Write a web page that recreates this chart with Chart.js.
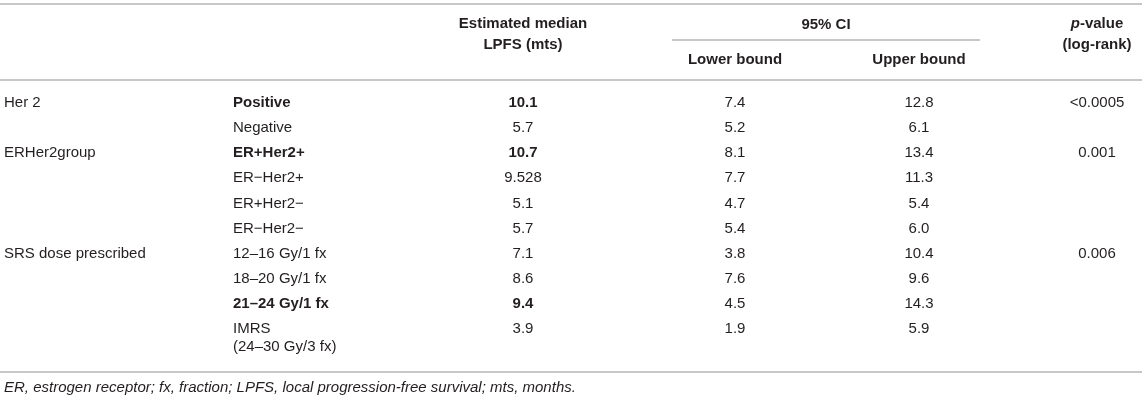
<!DOCTYPE html>
<html>
<head>
<meta charset="utf-8">
<script src="https://cdn.jsdelivr.net/npm/chart.js@4.4.1/dist/chart.umd.min.js"></script>
<style>
    html, body { margin: 0; padding: 0; background: #fff; }
    #wrap { width: 1145px; height: 400px; position: relative; }
</style>
</head>
<body>
<div id="wrap"><canvas id="tableChart"></canvas></div>
<script>
// Table data (one entry per body row)
const groups = ['Her 2', '', 'ERHer2group', '', '', '', 'SRS dose prescribed', '', '', ''];
const levels = ['Positive', 'Negative', 'ER+Her2+', 'ER\u2212Her2+', 'ER+Her2\u2212', 'ER\u2212Her2\u2212',
    '12\u201316 Gy/1 fx', '18\u201320 Gy/1 fx', '21\u201324 Gy/1 fx', ['IMRS', '(24\u201330 Gy/3 fx)']];
const medianLPFS = [10.1, 5.7, 10.7, 9.528, 5.1, 5.7, 7.1, 8.6, 9.4, 3.9];
const lowerBound = [7.4, 5.2, 8.1, 7.7, 4.7, 5.4, 3.8, 7.6, 4.5, 1.9];
const upperBound = [12.8, 6.1, 13.4, 11.3, 5.4, 6.0, 10.4, 9.6, 14.3, 5.9];
const pValues = ['<0.0005', '', '0.001', '', '', '', '0.006', '', '', ''];
const boldRows = [0, 2, 8];

// Header and footnote text
const headMedian = ['Estimated median', 'LPFS (mts)'];
const headCI = '95% CI';
const headBounds = ['Lower bound', 'Upper bound'];
const headP = ['p', '-value', '(log-rank)'];
const footnote = 'ER, estrogen receptor; fx, fraction; LPFS, local progression-free survival; mts, months.';

// Layout
const colX = [4, 233, 523, 735, 919, 1097];
const colAlign = ['left', 'left', 'center', 'center', 'center', 'center'];
const firstRowPx = 103;
const rowStepPx = 25.1;
const FONT = '"Liberation Sans", Arial, Helvetica, sans-serif';
const TEXT = '#231f20';
const RULE = '#b5b5b5';

function rowOf(px) {
    return (px - firstRowPx) / rowStepPx;
}

function fmt(v) {
    if (typeof v === 'number') return Number.isInteger(v) ? v.toFixed(1) : String(v);
    return v;
}

const columns = [groups, levels, medianLPFS, lowerBound, upperBound, pValues];

const datasets = columns.map((col, c) => ({
    data: col.map((v, r) => ({ x: colX[c], y: r })),
    cellText: col.map(fmt),
    align: colAlign[c],
    pointRadius: 0,
    pointHoverRadius: 0
}));

const tablePlugin = {
    id: 'tableText',
    afterDatasetsDraw(chart) {
        const { ctx, scales: { x, y } } = chart;
        const px = v => x.getPixelForValue(v);
        const py = v => y.getPixelForValue(v);

        ctx.save();

        // rules
        ctx.strokeStyle = RULE;
        ctx.lineWidth = 1.5;
        const rule = (x0, x1, r) => {
            ctx.beginPath();
            ctx.moveTo(px(x0), py(r));
            ctx.lineTo(px(x1), py(r));
            ctx.stroke();
        };
        rule(0, 1142, rowOf(4));
        rule(672, 980, rowOf(40));
        rule(0, 1142, rowOf(80));
        rule(0, 1142, rowOf(372));

        ctx.fillStyle = TEXT;
        ctx.textBaseline = 'middle';

        // header
        ctx.font = 'bold 15px ' + FONT;
        ctx.textAlign = 'center';
        ctx.fillText(headMedian[0], px(colX[2]), py(rowOf(24)));
        ctx.fillText(headMedian[1], px(colX[2]), py(rowOf(45)));
        ctx.fillText(headCI, px(826), py(rowOf(25)));
        ctx.fillText(headBounds[0], px(colX[3]), py(rowOf(60)));
        ctx.fillText(headBounds[1], px(colX[4]), py(rowOf(60)));
        ctx.fillText(headP[2], px(colX[5]), py(rowOf(45)));

        // "p-value" with italic p
        ctx.font = 'italic bold 15px ' + FONT;
        const wp = ctx.measureText(headP[0]).width;
        ctx.font = 'bold 15px ' + FONT;
        const wv = ctx.measureText(headP[1]).width;
        const left = px(colX[5]) - (wp + wv) / 2;
        ctx.textAlign = 'left';
        ctx.font = 'italic bold 15px ' + FONT;
        ctx.fillText(headP[0], left, py(rowOf(24)));
        ctx.font = 'bold 15px ' + FONT;
        ctx.fillText(headP[1], left + wp, py(rowOf(24)));

        // body cells, placed at each point of the datasets
        chart.data.datasets.forEach((ds, c) => {
            ctx.textAlign = ds.align;
            chart.getDatasetMeta(c).data.forEach((pt, r) => {
                const t = ds.cellText[r];
                if (!t) return;
                const bold = boldRows.includes(r) && (c === 1 || c === 2);
                ctx.font = (bold ? 'bold ' : '') + '15px ' + FONT;
                const lines = Array.isArray(t) ? t : [t];
                lines.forEach((ln, k) => ctx.fillText(ln, pt.x, pt.y + k * 18));
            });
        });

        // footnote
        ctx.font = 'italic 15px ' + FONT;
        ctx.textAlign = 'left';
        ctx.fillText(footnote, px(colX[0]), py(rowOf(388)));

        ctx.restore();
    }
};

new Chart(document.getElementById('tableChart'), {
    type: 'scatter',
    data: { datasets },
    options: {
        responsive: true,
        maintainAspectRatio: false,
        animation: false,
        events: [],
        layout: { padding: 0 },
        plugins: {
            legend: { display: false },
            tooltip: { enabled: false }
        },
        scales: {
            x: { type: 'linear', display: false, min: 0, max: 1145 },
            y: { type: 'linear', display: false, reverse: true, min: rowOf(0), max: rowOf(400) }
        }
    },
    plugins: [tablePlugin]
});
</script>
</body>
</html>
